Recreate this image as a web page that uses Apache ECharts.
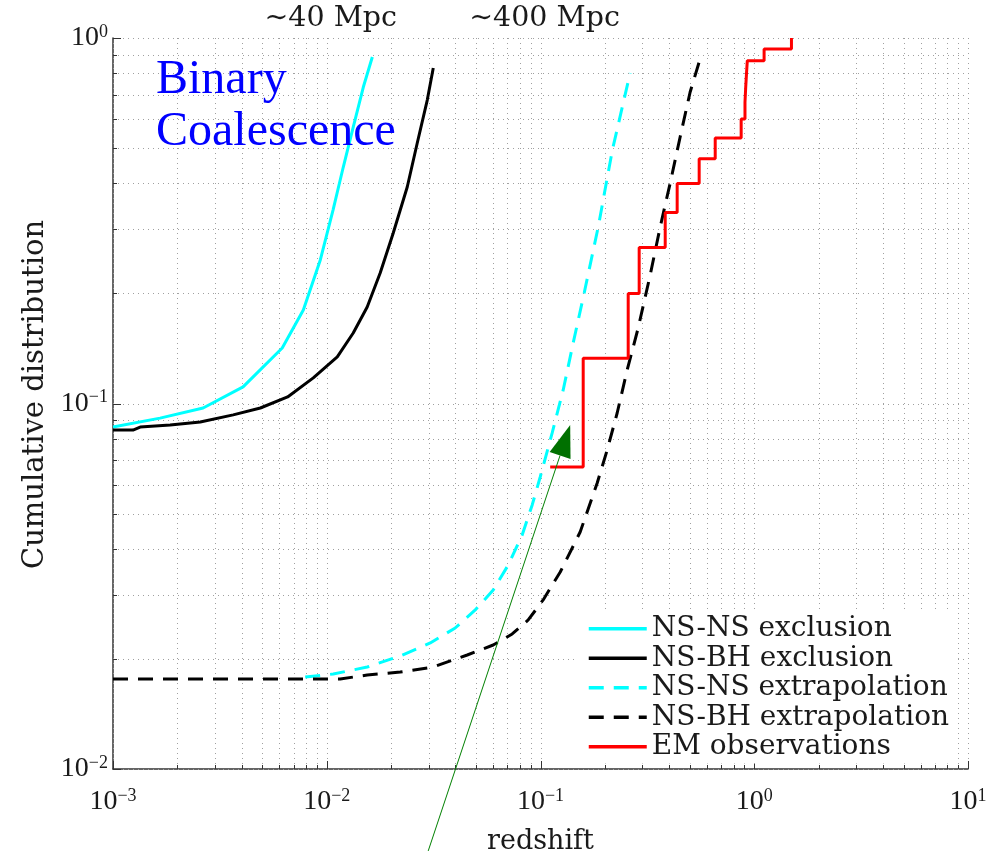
<!DOCTYPE html>
<html>
<head>
<meta charset="utf-8">
<title>Binary Coalescence – cumulative redshift distribution</title>
<script src="https://cdn.jsdelivr.net/npm/echarts@6/dist/echarts.min.js"></script>
<style>
  html, body { margin: 0; padding: 0; background: #ffffff; }
  #chart { width: 1003px; height: 851px; }
</style>
</head>
<body>
<div id="chart"></div>
<script>
// ---- data: redshift (x) and cumulative distribution (y) for every curve ----
const nsnsExclZ = [0.001, 0.00166, 0.00264, 0.00406, 0.00619, 0.00777, 0.00933, 0.0107, 0.01195, 0.0133, 0.01483, 0.01634];
const nsnsExclP = [0.0862, 0.0912, 0.0972, 0.111, 0.1419, 0.1803, 0.2471, 0.3383, 0.4436, 0.5707, 0.7343, 0.8872];

const nsbhExclZ = [0.001, 0.00124, 0.00134, 0.00185, 0.00256, 0.00365, 0.00489, 0.00656, 0.00865, 0.0112, 0.0133, 0.01546, 0.01778, 0.02047, 0.0238, 0.02651, 0.02953, 0.0315];
const nsbhExclP = [0.0846, 0.0846, 0.0862, 0.0873, 0.089, 0.0931, 0.0972, 0.1042, 0.1175, 0.1341, 0.1559, 0.1837, 0.2275, 0.2927, 0.3911, 0.5161, 0.6765, 0.8277];

const nsnsExtrZ = [0.00793, 0.01073, 0.01547, 0.02207, 0.03049, 0.0399, 0.04951, 0.06008, 0.07061, 0.08208, 0.09146, 0.09968, 0.1134, 0.1277, 0.1422, 0.1601, 0.1862, 0.2169, 0.2627];
const nsnsExtrP = [0.01785, 0.01819, 0.01901, 0.02038, 0.02212, 0.02431, 0.02723, 0.03088, 0.03614, 0.04367, 0.05278, 0.06293, 0.08306, 0.1089, 0.1464, 0.2006, 0.304, 0.4939, 0.8023];

const nsbhExtrZ = [0.001, 0.01156, 0.01547, 0.02207, 0.03149, 0.04542, 0.06008, 0.07372, 0.08761, 0.1029, 0.1237, 0.1533, 0.1842, 0.2051, 0.2284, 0.2544, 0.2864, 0.326, 0.363, 0.4044, 0.4501, 0.5013, 0.5525];
const nsbhExtrP = [0.01763, 0.01763, 0.01808, 0.01842, 0.01901, 0.02051, 0.02184, 0.02341, 0.02557, 0.02901, 0.03459, 0.0445, 0.0606, 0.0746, 0.09419, 0.1235, 0.1609, 0.2247, 0.304, 0.4012, 0.536, 0.7115, 0.8597];

// EM-observed events: sorted redshifts and their cumulative fraction
const emZ = [0.111, 0.1584, 0.2572, 0.2895, 0.3832, 0.4359, 0.5525, 0.6567, 0.8685, 0.905, 0.912, 0.92, 0.928, 1.112, 1.493];
const emP = [0.067, 0.133, 0.2, 0.267, 0.333, 0.4, 0.467, 0.533, 0.6, 0.667, 0.733, 0.8, 0.867, 0.933, 1.0];

// axis ranges and decade layout for the log grid
const xRange = [0.001, 10];
const yRange = [0.01, 1];
const xDecades = [-3, -2, -1, 0];
const yDecades = [-2, -1];
const minorSteps = [1, 2, 3, 4, 5, 6, 7, 8, 9];

// distance labels placed over redshift 0.01 and 0.1
const distanceLabels = [
  { z: 0.01, text: '\u223C40 Mpc' },
  { z: 0.1, text: '\u223C400 Mpc' }
];

// arrow annotation (tail lies below the plotting area)
const arrowTail = [0.02983, 0.005968];
const arrowTip = [0.1377, 0.0873];

const zip = (a, b) => a.map((v, i) => [v, b[i]]);

// grid line positions for every 1..9 multiple of each decade
function gridValues(decades, last) {
  const out = [];
  decades.forEach(d => minorSteps.forEach(m => out.push(m * Math.pow(10, d))));
  out.push(last);
  return out;
}
const xGrid = gridValues(xDecades, xRange[1]);
const yGrid = gridValues(yDecades, yRange[1]);

function isMajor(v) {
  const e = Math.log10(v);
  return Math.abs(e - Math.round(e)) < 1e-9;
}

const serif = 'DejaVu Serif';
const tickFont = 'Liberation Serif';
const ink = '#1a1a1a';

function powLabel(v) {
  const e = Math.round(Math.log10(v));
  const s = e < 0 ? '\u2212' + (-e) : String(e);
  return '{b|10}{s|' + s + '}';
}
const powRich = {
  b: { fontFamily: tickFont, fontSize: 28, lineHeight: 30, padding: [8, 0, 8, 0], verticalAlign: 'middle', color: ink },
  s: { fontFamily: tickFont, fontSize: 18, lineHeight: 18, verticalAlign: 'top', color: ink }
};

const gridDot = { stroke: '#a0a0a0', lineWidth: 1, lineDash: [1, 4] };
const tickStyle = { stroke: '#333', lineWidth: 1 };

function renderVertical(params, api) {
  const cs = params.coordSys;
  const x = Math.round(api.coord([api.value(0), yRange[1]])[0]) + 0.5;
  const bottom = cs.y + cs.height;
  const len = isMajor(api.value(0)) ? 8 : 4;
  return {
    type: 'group',
    children: [
      { type: 'line', shape: { x1: x, y1: cs.y, x2: x, y2: bottom }, style: gridDot },
      { type: 'line', shape: { x1: x, y1: bottom, x2: x, y2: bottom - len }, style: tickStyle }
    ]
  };
}
function renderHorizontal(params, api) {
  const cs = params.coordSys;
  const y = Math.round(api.coord([xRange[0], api.value(1)])[1]) + 0.5;
  const len = isMajor(api.value(1)) ? 8 : 4;
  return {
    type: 'group',
    children: [
      { type: 'line', shape: { x1: cs.x, y1: y, x2: cs.x + cs.width, y2: y }, style: gridDot },
      { type: 'line', shape: { x1: cs.x, y1: y, x2: cs.x + len, y2: y }, style: tickStyle }
    ]
  };
}

const chart = echarts.init(document.getElementById('chart'), null, { renderer: 'canvas' });

// line series without point markers; the hidden item style keeps the legend icon a plain stroke
const curve = (name, z, p, color, dashed, width) => ({
  name,
  type: 'line',
  data: zip(z, p),
  symbol: 'none',
  smooth: false,
  z: 3,
  lineStyle: { color, width: width || 3, type: dashed ? [15, 10] : 'solid' },
  itemStyle: { color, opacity: 0 },
  emphasis: { disabled: true }
});

const option = {
  animation: false,
  backgroundColor: '#ffffff',
  grid: { left: 113, right: 35, top: 38, bottom: 82, containLabel: false, outerBoundsMode: 'none' },
  xAxis: {
    type: 'log',
    logBase: 10,
    min: xRange[0],
    max: xRange[1],
    name: 'redshift',
    nameLocation: 'middle',
    nameGap: 51,
    nameTextStyle: { fontFamily: serif, fontSize: 27, color: ink },
    axisLine: { show: true, lineStyle: { color: '#333', width: 1.5 } },
    axisTick: { show: false },
    splitLine: { show: false },
    axisLabel: { margin: 18, formatter: powLabel, rich: powRich }
  },
  yAxis: {
    type: 'log',
    logBase: 10,
    min: yRange[0],
    max: yRange[1],
    name: 'Cumulative distribution',
    nameLocation: 'middle',
    nameGap: 62,
    nameTextStyle: { fontFamily: serif, fontSize: 29, color: ink, padding: [0, 0, 0, 18] },
    axisLine: { show: true, lineStyle: { color: '#333', width: 1.5 } },
    axisTick: { show: false },
    splitLine: { show: false },
    axisLabel: { margin: 5, formatter: powLabel, rich: powRich }
  },
  legend: {
    orient: 'vertical',
    left: 576,
    top: 612,
    padding: [2, 6, 2, 11],
    backgroundColor: '#ffffff',
    itemWidth: 58,
    itemHeight: 14,
    itemGap: 0,
    selectedMode: false,
    itemStyle: { opacity: 0 },
    lineStyle: { width: 3.5 },
    textStyle: { fontFamily: serif, fontSize: 28, lineHeight: 29.5, color: ink },
    data: ['NS-NS exclusion', 'NS-BH exclusion', 'NS-NS extrapolation', 'NS-BH extrapolation', 'EM observations']
  },
  series: [
    {
      type: 'custom',
      name: 'xgrid',
      silent: true,
      z: 1,
      renderItem: renderVertical,
      data: xGrid.map(v => [v, yRange[1]]),
      encode: { x: 0, y: 1 }
    },
    {
      type: 'custom',
      name: 'ygrid',
      silent: true,
      z: 1,
      renderItem: renderHorizontal,
      data: yGrid.map(v => [xRange[0], v]),
      encode: { x: 0, y: 1 }
    },
    curve('NS-NS exclusion', nsnsExclZ, nsnsExclP, '#00ffff', false, 3),
    curve('NS-BH exclusion', nsbhExclZ, nsbhExclP, '#000000', false, 3),
    curve('NS-NS extrapolation', nsnsExtrZ, nsnsExtrP, '#00ffff', true, 3),
    curve('NS-BH extrapolation', nsbhExtrZ, nsbhExtrP, '#000000', true, 3),
    Object.assign(curve('EM observations', emZ, emP, '#ff0000', false, 3), { step: 'end' })
  ]
};

chart.setOption(option);

// annotations positioned from data coordinates
function annotate() {
  const toPx = v => chart.convertToPixel({ gridIndex: 0 }, v);
  const tip = toPx(arrowTip);
  const tail = toPx(arrowTail);
  const dx = tip[0] - tail[0], dy = tip[1] - tail[1];
  const len = Math.hypot(dx, dy);
  const ux = dx / len, uy = dy / len;
  const headLen = 32, halfW = 11;
  const bx = tip[0] - ux * headLen, by = tip[1] - uy * headLen;
  const nx = -uy, ny = ux;

  const graphics = [
    {
      type: 'text',
      left: 156,
      top: 54,
      z: 10,
      style: {
        text: 'Binary\nCoalescence',
        fontFamily: 'Liberation Serif',
        fontSize: 48,
        lineHeight: 52,
        fill: '#0000ff'
      }
    },
    {
      type: 'line',
      z: 10,
      shape: { x1: tail[0], y1: tail[1], x2: bx, y2: by },
      style: { stroke: '#008000', lineWidth: 1 }
    },
    {
      type: 'polygon',
      z: 10,
      shape: { points: [tip, [bx + nx * halfW, by + ny * halfW], [bx - nx * halfW, by - ny * halfW]] },
      style: { fill: '#007000' }
    }
  ];
  distanceLabels.forEach(d => {
    const p = toPx([d.z, yRange[1]]);
    graphics.push({
      type: 'text',
      x: p[0] + 4,
      y: 19,
      z: 10,
      style: {
        text: d.text,
        fontFamily: serif,
        fontSize: 28.5,
        fill: ink,
        align: 'center',
        verticalAlign: 'middle'
      }
    });
  });
  chart.setOption({ graphic: graphics });
}
annotate();
</script>
</body>
</html>
